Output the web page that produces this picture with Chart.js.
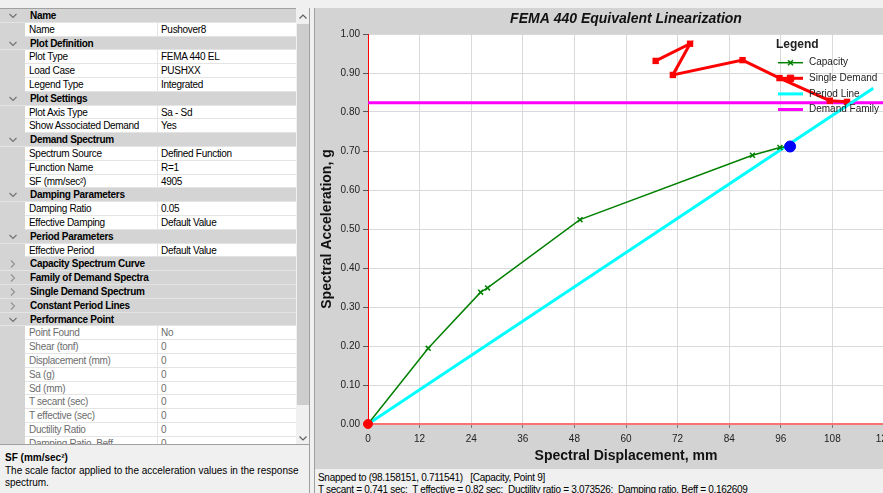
<!DOCTYPE html>
<html>
<head>
<meta charset="utf-8">
<title>FEMA 440 Equivalent Linearization</title>
<script src="https://cdn.jsdelivr.net/npm/chart.js@4.4.1/dist/chart.umd.min.js"></script>
<style>
  html, body { margin: 0; padding: 0; }
  body {
    width: 883px; height: 493px; overflow: hidden; position: relative;
    background: #f0f0f0;
    font-family: 'Liberation Sans', Arial, sans-serif; font-size: 10px; color: #000;
  }
  #props { position: absolute; left: 0; top: 8px; width: 296px; height: 437px; overflow: hidden; background: #fff; border-top: 1px solid #a0a0a0; }
  .row { position: absolute; left: 0; width: 296px; height: 13.8px; line-height: 13.8px; white-space: nowrap; letter-spacing: -0.3px; }
  .cat { background: #d4d4d4; font-weight: bold; border-bottom: 1px solid #e4e4e4; box-sizing: border-box; }
  .cat .txt { position: absolute; left: 30px; }
  .cat svg { position: absolute; left: 9px; top: 4px; }
  .gut { position: absolute; left: 0; top: 0; width: 25px; height: 100%; background: #d4d4d4; }
  .name, .val { position: absolute; top: 0; height: 100%; box-sizing: border-box; border-bottom: 1px solid #e4e4e4; padding-left: 4px; }
  .name { left: 25px; width: 133px; border-right: 1px solid #e4e4e4; }
  .val { left: 158px; width: 138px; padding-left: 3px; }
  .off { color: #6d6d6d; }
  #sb { position: absolute; left: 296px; top: 9px; width: 13px; height: 436px; background: #f0f0f0; }
  #thumb { position: absolute; left: 1px; top: 15px; width: 12px; height: 381px; background: #cdcdcd; }
  #sb svg { position: absolute; left: 3px; }
  #split { position: absolute; left: 309px; top: 8px; width: 4px; height: 485px; border-left: 1px solid #a0a0a0; border-right: 1px solid #a0a0a0; background: #f0f0f0; }
  #desc { position: absolute; left: 0; top: 444px; width: 309px; height: 49px; border-top: 1px solid #a0a0a0; background: #f0f0f0; }
  #desc b { position: absolute; left: 5px; top: 7px; }
  #desc p { position: absolute; left: 5px; top: 20px; margin: 0; width: 300px; line-height: 11.5px; }
  #chartWrap { position: absolute; left: 315px; top: 8px; width: 568px; height: 461px; overflow: hidden; background: #d3d3d3; }
  #status { position: absolute; left: 315px; top: 469px; width: 568px; height: 24px; background: #f0f0f0; letter-spacing: -0.3px; }
  #status div { position: absolute; left: 3px; white-space: pre; }
</style>
</head>
<body>
<div id="props"></div>
<div id="sb">
  <svg width="8" height="5" style="top:5px"><polyline points="0.5,4.5 4,1 7.5,4.5" fill="none" stroke="#606060" stroke-width="1.2"/></svg>
  <div id="thumb"></div>
  <svg width="8" height="5" style="top:427px"><polyline points="0.5,0.5 4,4 7.5,0.5" fill="none" stroke="#606060" stroke-width="1.2"/></svg>
</div>
<div id="split"></div>
<div id="desc">
  <b>SF (mm/sec²)</b>
  <p>The scale factor applied to the acceleration values in the response spectrum.</p>
</div>
<div id="chartWrap"><canvas id="capacityChart" width="600" height="461"></canvas></div>
<div id="status">
  <div style="top:3px">Snapped to (98.158151, 0.711541)   [Capacity, Point 9]</div>
  <div style="top:15px">T secant = 0.741 sec;  T effective = 0.82 sec;  Ductility ratio = 3.073526;  Damping ratio, Beff = 0.162609</div>
</div>

<script>
// capacity spectrum curve (Sd in mm, Sa in g)
const capSd = [0, 14.0, 26.2, 27.8, 49.3, 89.4, 95.8, 98.158151];
const capSa = [0, 0.194, 0.338, 0.349, 0.524, 0.689, 0.709, 0.711541];

// single demand spectrum
const demSd = [66.9, 74.9, 70.9, 87.1, 95.7, 107.4, 111.4];
const demSa = [0.931, 0.975, 0.895, 0.933, 0.887, 0.829, 0.826];

// secant period line and demand family level
const periodSd = [0, 117.5];
const periodSa = [0, 0.861];
const familySd = [0, 120];
const familySa = [0.824, 0.824];

// snapped capacity point and origin
const snapSd = [98.158151];
const snapSa = [0.711541];
const originSd = [0];
const originSa = [0];

const xTicks = [0, 12, 24, 36, 48, 60, 72, 84, 96, 108, 120];
const yTicks = [0, 0.1, 0.2, 0.3, 0.4, 0.5, 0.6, 0.7, 0.8, 0.9, 1.0];

// property grid contents: [type, name, value, expanded/disabled]
const gridRows = [
  ['cat', 'Name', null, true],
  ['prop', 'Name', 'Pushover8'],
  ['cat', 'Plot Definition', null, true],
  ['prop', 'Plot Type', 'FEMA 440 EL'],
  ['prop', 'Load Case', 'PUSHXX'],
  ['prop', 'Legend Type', 'Integrated'],
  ['cat', 'Plot Settings', null, true],
  ['prop', 'Plot Axis Type', 'Sa - Sd'],
  ['prop', 'Show Associated Demand', 'Yes'],
  ['cat', 'Demand Spectrum', null, true],
  ['prop', 'Spectrum Source', 'Defined Function'],
  ['prop', 'Function Name', 'R=1'],
  ['prop', 'SF (mm/sec²)', '4905'],
  ['cat', 'Damping Parameters', null, true],
  ['prop', 'Damping Ratio', '0.05'],
  ['prop', 'Effective Damping', 'Default Value'],
  ['cat', 'Period Parameters', null, true],
  ['prop', 'Effective Period', 'Default Value'],
  ['cat', 'Capacity Spectrum Curve', null, false],
  ['cat', 'Family of Demand Spectra', null, false],
  ['cat', 'Single Demand Spectrum', null, false],
  ['cat', 'Constant Period Lines', null, false],
  ['cat', 'Performance Point', null, true],
  ['prop', 'Point Found', 'No', true],
  ['prop', 'Shear (tonf)', '0', true],
  ['prop', 'Displacement (mm)', '0', true],
  ['prop', 'Sa (g)', '0', true],
  ['prop', 'Sd (mm)', '0', true],
  ['prop', 'T secant (sec)', '0', true],
  ['prop', 'T effective (sec)', '0', true],
  ['prop', 'Ductility Ratio', '0', true],
  ['prop', 'Damping Ratio, Beff', '0', true]
];

const props = document.getElementById('props');
gridRows.forEach(function(r, i) {
  const row = document.createElement('div');
  row.className = 'row ' + r[0];
  row.style.top = (i * 13.8) + 'px';
  if (r[0] === 'cat') {
    const arrow = r[3]
      ? '<svg width="8" height="6"><polyline points="0.5,1 4,4.5 7.5,1" fill="none" stroke="#707070" stroke-width="1.1"/></svg>'
      : '<svg width="8" height="8" style="top:3px"><polyline points="2,0.5 5.5,4 2,7.5" fill="none" stroke="#909090" stroke-width="1.1"/></svg>';
    row.innerHTML = arrow + '<span class="txt">' + r[1] + '</span>';
  } else {
    const cls = r[3] ? ' off' : '';
    row.innerHTML = '<div class="gut"></div><div class="name' + cls + '">' + r[1] +
      '</div><div class="val' + cls + '">' + r[2] + '</div>';
  }
  props.appendChild(row);
});

function pts(xs, ys) {
  return xs.map(function(x, i) { return { x: x, y: ys[i] }; });
}

Chart.defaults.font.family = "'Liberation Sans', Arial, sans-serif";

// white plotting area on the grey panel
const plotBackground = {
  id: 'plotBackground',
  beforeDraw(chart) {
    const a = chart.chartArea;
    chart.ctx.save();
    chart.ctx.fillStyle = '#ffffff';
    chart.ctx.fillRect(a.left, a.top, a.right - a.left, a.bottom - a.top);
    chart.ctx.restore();
  }
};

// title centred over the plotting area
const plotTitle = {
  id: 'plotTitle',
  afterDraw(chart) {
    const a = chart.chartArea;
    const ctx = chart.ctx;
    ctx.save();
    ctx.fillStyle = '#111';
    ctx.font = "italic bold 14px 'Liberation Sans', Arial, sans-serif";
    ctx.textAlign = 'center';
    ctx.textBaseline = 'middle';
    ctx.fillText('FEMA 440 Equivalent Linearization', (a.left + a.right) / 2, 11.5);
    ctx.restore();
  }
};

// legend drawn inside the plot, top right
const plotLegend = {
  id: 'plotLegend',
  afterDraw(chart) {
    const ctx = chart.ctx;
    const x0 = 461;
    ctx.save();
    ctx.textBaseline = 'middle';
    ctx.fillStyle = '#222';
    ctx.font = "bold 12px 'Liberation Sans', Arial, sans-serif";
    ctx.fillText('Legend', x0, 37);
    ctx.font = "10px 'Liberation Sans', Arial, sans-serif";
    chart.data.datasets.filter(function(d) { return d.inLegend; }).forEach(function(d, i) {
      const y = 54.7 + i * 15.6;
      ctx.strokeStyle = d.borderColor;
      ctx.fillStyle = d.borderColor;
      ctx.lineWidth = d.borderWidth;
      ctx.beginPath();
      ctx.moveTo(x0 + 2, y);
      ctx.lineTo(x0 + 27, y);
      ctx.stroke();
      if (d.pointRadius) {
        ctx.lineWidth = d.pointBorderWidth || 1;
        Chart.helpers.drawPoint(ctx, {
          pointStyle: d.pointStyle, radius: d.pointRadius,
          borderWidth: d.pointBorderWidth || 1, rotation: 0
        }, x0 + 14.5, y);
      }
      ctx.fillStyle = '#222';
      ctx.fillText(d.label, x0 + 33, y);
    });
    ctx.restore();
  }
};

const ctx = document.getElementById('capacityChart').getContext('2d');
new Chart(ctx, {
  type: 'line',
  data: {
    datasets: [
      {
        label: 'Capacity', inLegend: true,
        data: pts(capSd, capSa),
        borderColor: '#008000', backgroundColor: '#008000',
        borderWidth: 1.5, pointStyle: 'crossRot', pointRadius: 3.5, pointBorderWidth: 1.5,
        order: 2
      },
      {
        label: 'Single Demand', inLegend: true,
        data: pts(demSd, demSa),
        borderColor: '#ff0000', backgroundColor: '#ff0000',
        borderWidth: 3, pointStyle: 'rect', pointRadius: 4.5, pointBorderWidth: 0,
        order: 4
      },
      {
        label: 'Period Line', inLegend: true,
        data: pts(periodSd, periodSa),
        borderColor: '#00ffff', borderWidth: 3, pointRadius: 0,
        order: 3
      },
      {
        label: 'Demand Family', inLegend: true,
        data: pts(familySd, familySa),
        borderColor: '#ff00ff', borderWidth: 3, pointRadius: 0,
        order: 5
      },
      {
        label: 'Snapped Point',
        data: pts(snapSd, snapSa),
        borderColor: '#0000ff', backgroundColor: '#0000ff',
        pointRadius: 5.5, showLine: false,
        order: 0
      },
      {
        label: 'Origin',
        data: pts(originSd, originSa),
        borderColor: '#ff0000', backgroundColor: '#ff0000',
        pointRadius: 4.5, showLine: false, clip: false,
        order: 1
      }
    ]
  },
  options: {
    responsive: false,
    animation: false,
    devicePixelRatio: 1,
    layout: { padding: { top: 26, right: 31, left: 0, bottom: 0 } },
    plugins: {
      legend: { display: false },
      tooltip: { enabled: false }
    },
    elements: { line: { tension: 0 } },
    scales: {
      x: {
        type: 'linear', min: 0, max: 120,
        afterBuildTicks: function(s) { s.ticks = xTicks.map(function(v) { return { value: v }; }); },
        afterFit: function(s) { s.height = 45; },
        ticks: { autoSkip: false, maxRotation: 0, color: '#222', font: { size: 10 }, padding: 5 },
        grid: { color: '#d9d9d9', tickColor: '#777', tickLength: 4 },
        border: { color: '#ff7070', width: 2 },
        title: {
          display: true, text: 'Spectral Displacement, mm', color: '#111',
          font: { size: 14, weight: 'bold' }, padding: { top: 0, bottom: 4.5 }
        }
      },
      y: {
        type: 'linear', min: 0, max: 1,
        afterBuildTicks: function(s) { s.ticks = yTicks.map(function(v) { return { value: v }; }); },
        afterFit: function(s) { s.width = 53; },
        ticks: {
          autoSkip: false, color: '#222', font: { size: 10 }, padding: 3,
          callback: function(v) { return Number(v).toFixed(2); }
        },
        grid: { color: '#d9d9d9', tickColor: '#555', tickLength: 5 },
        border: { color: '#ff0000', width: 1 },
        title: {
          display: true, text: 'Spectral Acceleration, g', color: '#111',
          font: { size: 14, weight: 'bold' }, padding: { top: 3.5, bottom: 0 }
        }
      }
    }
  },
  plugins: [plotBackground, plotTitle, plotLegend]
});
</script>
</body>
</html>
